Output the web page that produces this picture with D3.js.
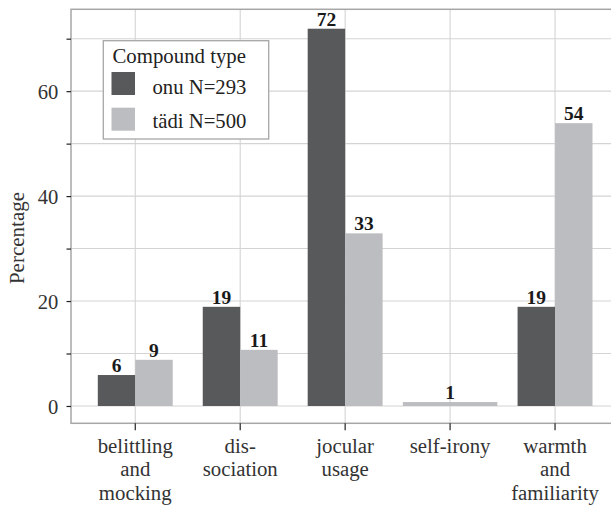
<!DOCTYPE html>
<html><head><meta charset="utf-8">
<script src="https://cdn.jsdelivr.net/npm/d3@7"></script>
<style>body{margin:0;background:#fff}svg{display:block}</style>
</head><body>
<svg id="c" width="611" height="505"></svg>
<script>
const categories = [["belittling","and","mocking"],["dis-","sociation"],["jocular","usage"],["self-irony"],["warmth","and","familiarity"]];
const catKeys = ["belittling","dissociation","jocular","selfirony","warmth"];
const seriesNames = ["onu N=293","tädi N=500"];
const onuValues = [5.9, 18.9, 71.9, null, 18.9];
const tadiValues = [8.8, 10.7, 32.9, 0.75, 53.9];
const onuLabels = ["6","19","72",null,"19"];
const tadiLabels = ["9","11","33","1","54"];
const yTicks = [0,20,40,60];
const yMinor = [10,30,50,70];
const colors = ["#58595b","#bcbdc0"];

const svg = d3.select("#c");
const font = "'Liberation Serif','Times New Roman',serif";
const L=71, R=618, T=9.3, B=423.3;
const y = d3.scaleLinear().domain([-3.3,75.6]).range([B,T]);
const x = d3.scaleBand().domain(catKeys).range([72.3,618]).paddingInner(0).paddingOuter(0.1);
const step = x.step();
const cx = k => x(k) + x.bandwidth()/2;
const dodge = 0.714*step;

const g = svg.append("g");
g.selectAll("line.h").data(yTicks.concat(yMinor)).join("line")
  .attr("x1",L).attr("x2",R).attr("y1",d=>y(d)).attr("y2",d=>y(d))
  .attr("stroke","#d4d4d4").attr("stroke-width",1.1);
g.selectAll("line.v").data(catKeys).join("line")
  .attr("x1",d=>cx(d)).attr("x2",d=>cx(d)).attr("y1",T).attr("y2",B)
  .attr("stroke","#d4d4d4").attr("stroke-width",1.1);

const bars = [];
catKeys.forEach((k,i)=>{
  const o = onuValues[i], t = tadiValues[i];
  if (o!=null && t!=null){
    bars.push({k, v:o, s:0, x0:cx(k)-dodge/2, w:dodge/2, lab:onuLabels[i]});
    bars.push({k, v:t, s:1, x0:cx(k), w:dodge/2, lab:tadiLabels[i]});
  } else if (t!=null){
    bars.push({k, v:t, s:1, x0:cx(k)-0.9*step/2, w:0.9*step, lab:tadiLabels[i]});
  } else {
    bars.push({k, v:o, s:0, x0:cx(k)-0.9*step/2, w:0.9*step, lab:onuLabels[i]});
  }
});
g.selectAll("rect.bar").data(bars).join("rect")
  .attr("x",d=>d.x0).attr("width",d=>d.w)
  .attr("y",d=>y(d.v)).attr("height",d=>y(0)-y(d.v))
  .attr("fill",d=>colors[d.s]);
g.selectAll("text.lab").data(bars).join("text")
  .attr("x",d=>d.x0+d.w/2).attr("y",d=>y(d.v)-3)
  .attr("text-anchor","middle").attr("font-family",font).attr("font-weight","bold")
  .attr("font-size",19.5).attr("fill","#1a1a1a").text(d=>d.lab);

svg.append("rect").attr("x",L).attr("y",T).attr("width",R-L).attr("height",B-T)
  .attr("fill","none").attr("stroke","#a6a6a6").attr("stroke-width",1.5);

const ya = svg.append("g").attr("transform",`translate(${L},0)`)
  .call(d3.axisLeft(y).tickValues(yTicks.concat(yMinor)).tickSize(4.5).tickFormat(d=>yTicks.includes(d)?d:""));
ya.select(".domain").remove();
ya.selectAll("line").attr("stroke","#222").attr("stroke-width",1.2);
ya.selectAll("text").attr("font-family",font).attr("font-size",20.6).attr("fill","#333").attr("x",-12.7).attr("dy","0.34em");

const xa = svg.append("g").attr("transform",`translate(0,${B})`)
  .call(d3.axisBottom(x).tickSize(7).tickFormat(""));
xa.select(".domain").remove();
xa.selectAll("line").attr("stroke","#222").attr("stroke-width",1.2);
xa.selectAll(".tick").each(function(d,i){
  const t = d3.select(this).append("text").attr("fill","#333").attr("font-family",font)
    .attr("font-size",20.8).attr("text-anchor","middle");
  categories[i].forEach((ln,j)=>t.append("tspan").attr("x",0).attr("y",29.7+j*23.5).text(ln));
});

svg.append("text").attr("transform","translate(24,238) rotate(-90)")
  .attr("text-anchor","middle").attr("font-family",font).attr("font-size",21).attr("fill","#333")
  .text("Percentage");

const lg = svg.append("g");
lg.append("rect").attr("x",103.3).attr("y",40.7).attr("width",165.4).attr("height",98.3)
  .attr("fill","#fff").attr("stroke","#a6a6a6").attr("stroke-width",1.3);
lg.append("text").attr("x",112.5).attr("y",63.3).attr("font-family",font).attr("font-size",20.8).attr("fill","#222").text("Compound type");
seriesNames.forEach((n,i)=>{
  lg.append("rect").attr("x",111.5).attr("y",72+i*35.7).attr("width",23.5).attr("height",23)
    .attr("fill",colors[i]);
  lg.append("text").attr("x",152.5).attr("y",94.3+i*34).attr("font-family",font).attr("font-size",20.7).attr("fill","#222").text(n);
});
</script>
</body></html>
